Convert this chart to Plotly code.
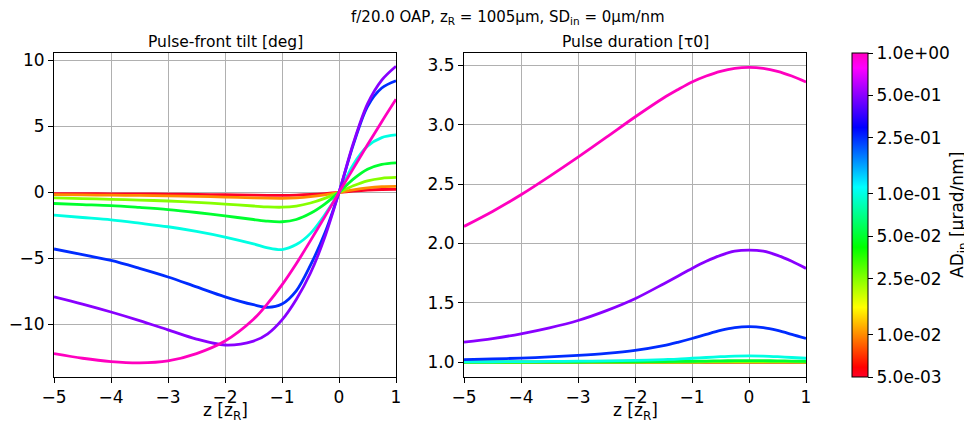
import math
import plotly.graph_objects as go

# ---------------- data ----------------
z = [-5, -4.5, -4, -3.5, -3, -2.5, -2, -1.5, -1.25, -1, -0.75, -0.5, -0.25, 0, 0.25, 0.5, 0.75, 1]

ad_values = [5e-3, 1e-2, 2.5e-2, 5e-2, 1e-1, 2.5e-1, 5e-1, 1.0]

# Pulse-front tilt [deg], one list per AD value
pft_5e3 = [-0.085, -0.095, -0.105, -0.115, -0.13, -0.15, -0.175, -0.205, -0.22, -0.225, -0.205, -0.16, -0.09, 0, 0.1, 0.18, 0.22, 0.23]
pft_1e2 = [-0.17, -0.19, -0.21, -0.23, -0.26, -0.3, -0.35, -0.41, -0.44, -0.45, -0.41, -0.32, -0.18, 0, 0.2, 0.35, 0.43, 0.45]
pft_25e3 = [-0.42, -0.47, -0.52, -0.58, -0.65, -0.75, -0.88, -1.03, -1.1, -1.12, -1.03, -0.8, -0.45, 0, 0.5, 0.88, 1.07, 1.13]
pft_5e2 = [-0.84, -0.92, -1.0, -1.14, -1.3, -1.52, -1.78, -2.05, -2.18, -2.22, -2.05, -1.58, -0.88, 0, 1.0, 1.75, 2.12, 2.24]
pft_1e1 = [-1.72, -1.9, -2.08, -2.33, -2.6, -2.95, -3.38, -3.9, -4.2, -4.33, -3.95, -3.1, -1.7, 0, 2.1, 3.5, 4.15, 4.35]
pft_25e2 = [-4.28, -4.7, -5.15, -5.75, -6.4, -7.15, -7.9, -8.5, -8.7, -8.45, -7.45, -5.5, -3.1, 0, 3.6, 6.5, 7.9, 8.45]
pft_5e1 = [-7.9, -8.45, -9.05, -9.7, -10.4, -11.1, -11.55, -11.25, -10.7, -9.65, -8.1, -6.1, -3.4, 0, 3.7, 6.7, 8.5, 9.55]
pft_1e0 = [-12.2, -12.55, -12.8, -12.9, -12.75, -12.2, -11.25, -9.6, -8.4, -7.0, -5.4, -3.65, -1.85, 0, 1.8, 3.6, 5.35, 7.05]

# Pulse duration [tau0]
dur_5e3 = [1.0, 1.0, 1.0, 1.0, 1.0, 1.0, 1.0, 1.0001, 1.0001, 1.0001, 1.0002, 1.0002, 1.0002, 1.0002, 1.0002, 1.0002, 1.0002, 1.0001]
dur_1e2 = [1.0001, 1.0001, 1.0001, 1.0001, 1.0001, 1.0002, 1.0002, 1.0003, 1.0004, 1.0005, 1.0006, 1.0007, 1.0008, 1.0008, 1.0008, 1.0007, 1.0006, 1.0005]
dur_25e3 = [1.0003, 1.0003, 1.0004, 1.0005, 1.0006, 1.0008, 1.001, 1.0015, 1.0018, 1.0022, 1.0026, 1.003, 1.0033, 1.0034, 1.0033, 1.003, 1.0026, 1.0022]
dur_5e2 = [1.001, 1.001, 1.0014, 1.0018, 1.0023, 1.003, 1.004, 1.006, 1.007, 1.0088, 1.0103, 1.012, 1.0132, 1.0137, 1.0132, 1.012, 1.0103, 1.0088]
dur_1e1 = [1.004, 1.0045, 1.0055, 1.007, 1.009, 1.012, 1.016, 1.023, 1.027, 1.034, 1.04, 1.047, 1.052, 1.054, 1.052, 1.047, 1.04, 1.034]
dur_25e2 = [1.022, 1.028, 1.035, 1.045, 1.058, 1.075, 1.1, 1.14, 1.168, 1.2, 1.235, 1.268, 1.292, 1.30, 1.292, 1.268, 1.235, 1.2]
dur_5e1 = [1.169, 1.2, 1.24, 1.29, 1.352, 1.435, 1.535, 1.66, 1.725, 1.79, 1.85, 1.9, 1.935, 1.944, 1.935, 1.9, 1.85, 1.79]
dur_1e0 = [2.144, 2.27, 2.41, 2.565, 2.727, 2.895, 3.065, 3.225, 3.295, 3.36, 3.41, 3.45, 3.475, 3.483, 3.475, 3.45, 3.41, 3.36]

pft_series = [pft_5e3, pft_1e2, pft_25e3, pft_5e2, pft_1e1, pft_25e2, pft_5e1, pft_1e0]
dur_series = [dur_5e3, dur_1e2, dur_25e3, dur_5e2, dur_1e1, dur_25e2, dur_5e1, dur_1e0]

x_ticks = [-5, -4, -3, -2, -1, 0, 1]
pft_ticks = [-10, -5, 0, 5, 10]
dur_ticks = [1.0, 1.5, 2.0, 2.5, 3.0, 3.5]
dur_ticktext = ["1.0", "1.5", "2.0", "2.5", "3.0", "3.5"]

cbar_ticks = [5e-3, 1e-2, 2.5e-2, 5e-2, 1e-1, 2.5e-1, 5e-1, 1.0]
cbar_ticktext = ["5.0e-03", "1.0e-02", "2.5e-02", "5.0e-02", "1.0e-01", "2.5e-01", "5.0e-01", "1.0e+00"]

# ---------------- colormap (gist_rainbow) ----------------
gist_stops = [
    (0.000, (1.00, 0.00, 0.16)),
    (0.030, (1.00, 0.00, 0.00)),
    (0.215, (1.00, 1.00, 0.00)),
    (0.400, (0.00, 1.00, 0.00)),
    (0.586, (0.00, 1.00, 1.00)),
    (0.770, (0.00, 0.00, 1.00)),
    (0.954, (1.00, 0.00, 1.00)),
    (1.000, (1.00, 0.00, 0.75)),
]


def cmap(t):
    t = min(max(t, 0.0), 1.0)
    for (p0, c0), (p1, c1) in zip(gist_stops[:-1], gist_stops[1:]):
        if p0 <= t <= p1:
            f = (t - p0) / (p1 - p0) if p1 > p0 else 0
            c = [c0[i] + f * (c1[i] - c0[i]) for i in range(3)]
            return "rgb(%d,%d,%d)" % tuple(round(255 * v) for v in c)
    return "rgb(255,0,191)"


colorscale = [[p, "rgb(%d,%d,%d)" % tuple(round(255 * v) for v in c)] for p, c in gist_stops]

lmin, lmax = math.log10(5e-3), math.log10(1.0)


def norm(v):
    return (math.log10(v) - lmin) / (lmax - lmin)


# ---------------- layout geometry (page pixels) ----------------
OFF = 8                      # default page body margin
W, H = 972 - OFF, 422 - OFF  # figure size so that it fills the window exactly
L, R, T, B = 54, 806, 53, 377  # plot-area box (page coords) spanning both panels
PW, PH = R - L, B - T


def px(xp):
    return (xp - L) / PW


def py(yp):
    return (B - yp) / PH


fig = go.Figure()

for ad, pft, dur in zip(ad_values, pft_series, dur_series):
    col = cmap(norm(ad))
    fig.add_trace(go.Scatter(x=z, y=pft, mode="lines", line=dict(color=col, width=2.8, shape="spline", smoothing=0.9),
                             xaxis="x", yaxis="y", showlegend=False, hoverinfo="skip"))
    fig.add_trace(go.Scatter(x=z, y=dur, mode="lines", line=dict(color=col, width=2.8, shape="spline", smoothing=0.9),
                             xaxis="x2", yaxis="y2", showlegend=False, hoverinfo="skip"))

# colorbar carrier
fig.add_trace(go.Scatter(
    x=[None], y=[None], mode="markers", xaxis="x", yaxis="y", showlegend=False, hoverinfo="skip",
    marker=dict(color=[lmin, lmax], cmin=lmin, cmax=lmax, colorscale=colorscale, showscale=True,
                colorbar=dict(
                    x=px(852), xanchor="left", xpad=0, ypad=0,
                    y=0.5, yanchor="middle",
                    len=1.0, lenmode="fraction",
                    thickness=16, thicknessmode="pixels",
                    outlinecolor="black", outlinewidth=1,
                    tickmode="array",
                    tickvals=[math.log10(v) for v in cbar_ticks],
                    ticktext=cbar_ticktext,
                    ticks="outside", ticklen=5, tickcolor="black",
                    tickfont=dict(family="DejaVu Sans", size=17, color="black"),
                ))))

axis_common = dict(showline=True, mirror=True, linecolor="black", linewidth=1,
                   ticks="outside", ticklen=5, tickcolor="black", automargin=False,
                   showgrid=True, gridcolor="#b0b0b0", gridwidth=0.8, zeroline=False,
                   tickfont=dict(family="DejaVu Sans", size=17, color="black"))


def ann(text, x, y, size, **kw):
    return dict(text=text, x=px(x), y=py(y), xref="paper", yref="paper", xanchor="center", yanchor="middle",
                showarrow=False, font=dict(family="DejaVu Sans", size=size, color="black"), **kw)


fig.update_layout(
    width=W, height=H,
    margin=dict(l=L - OFF, r=972 - R, t=T - OFF, b=422 - B, autoexpand=False),
    paper_bgcolor="white", plot_bgcolor="white",
    font=dict(family="DejaVu Sans", color="black"),
    xaxis=dict(domain=[px(54), px(396)], range=[-5, 1], tickvals=x_ticks, anchor="y", **axis_common),
    yaxis=dict(domain=[0, 1], range=[-13.97, 10.55], tickvals=pft_ticks, anchor="x", **axis_common),
    xaxis2=dict(domain=[px(464), px(806)], range=[-5, 1], tickvals=x_ticks, anchor="y2", **axis_common),
    yaxis2=dict(domain=[0, 1], range=[0.876, 3.604], tickvals=dur_ticks, ticktext=dur_ticktext,
                anchor="x2", **axis_common),
    annotations=[
        ann("f/20.0 OAP, z<sub>R</sub> = 1005μm, SD<sub>in</sub> = 0μm/nm", 508, 18, 15),
        ann("Pulse-front tilt [deg]", 225, 42, 15.5),
        ann("Pulse duration [τ0]", 635, 42, 15.5),
        ann("z [z<sub>R</sub>]", 225, 411, 17),
        ann("z [z<sub>R</sub>]", 635, 411, 17),
        ann("AD<sub>in</sub> [μrad/nm]", 958, 215, 17, textangle=-90),
    ],
)

fig.write_html("out.html")
